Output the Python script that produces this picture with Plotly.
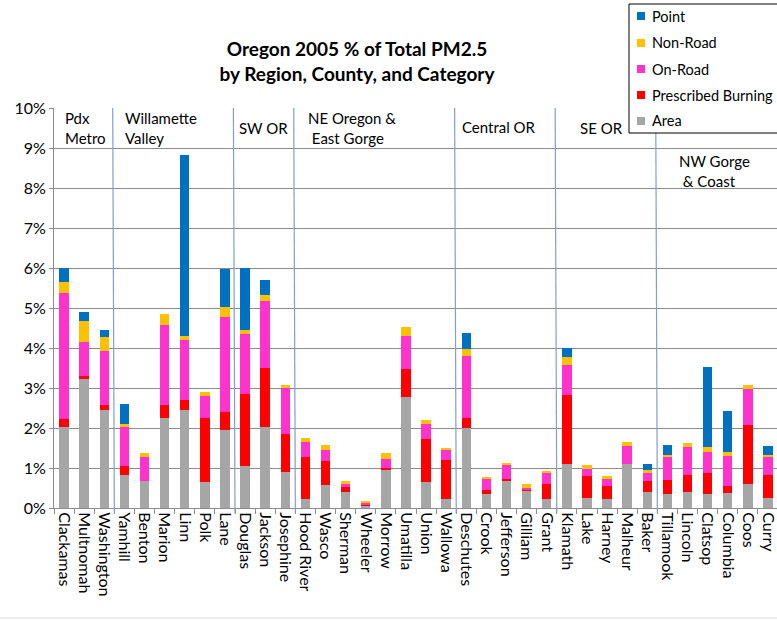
import plotly.graph_objects as go

counties = ["Clackamas", "Multnomah", "Washington", "Yamhill", "Benton", "Marion", "Linn", "Polk", "Lane",
            "Douglas", "Jackson", "Josephine", "Hood River", "Wasco", "Sherman", "Wheeler", "Morrow",
            "Umatilla", "Union", "Wallowa", "Deschutes", "Crook", "Jefferson", "Gilliam", "Grant",
            "Klamath", "Lake", "Harney", "Malheur", "Baker", "Tillamook", "Lincoln", "Clatsop",
            "Columbia", "Coos", "Curry"]

area       = [2.02, 3.22, 2.45, 0.83, 0.68, 2.25, 2.45, 0.65, 1.95, 1.06, 2.02, 0.90, 0.22, 0.58, 0.40, 0.06, 0.97,
              2.78, 0.65, 0.23, 2.00, 0.34, 0.675, 0.44, 0.22, 1.10, 0.24, 0.22, 1.10, 0.39, 0.34, 0.39, 0.34,
              0.37, 0.60, 0.26]
prescribed = [0.20, 0.08, 0.13, 0.22, 0.00, 0.33, 0.25, 1.60, 0.45, 1.80, 1.49, 0.95, 1.06, 0.60, 0.13, 0.02, 0.03,
              0.70, 1.07, 0.98, 0.25, 0.11, 0.06, 0.03, 0.38, 1.72, 0.57, 0.33, 0.00, 0.29, 0.36, 0.435, 0.54,
              0.18, 1.475, 0.565]
onroad     = [3.16, 0.86, 1.35, 0.97, 0.60, 2.00, 1.49, 0.56, 2.37, 1.49, 1.67, 1.16, 0.38, 0.28, 0.08, 0.045, 0.23,
              0.82, 0.375, 0.23, 1.56, 0.275, 0.345, 0.03, 0.275, 0.75, 0.16, 0.175, 0.46, 0.20, 0.58, 0.705, 0.53,
              0.76, 0.90, 0.45]
nonroad    = [0.26, 0.52, 0.35, 0.09, 0.10, 0.275, 0.12, 0.10, 0.25, 0.10, 0.15, 0.06, 0.08, 0.11, 0.065, 0.045, 0.14,
              0.22, 0.10, 0.05, 0.17, 0.055, 0.055, 0.10, 0.05, 0.20, 0.10, 0.075, 0.08, 0.07, 0.05, 0.09, 0.12,
              0.08, 0.095, 0.055]
point      = [0.35, 0.22, 0.18, 0.49, 0.00, 0.00, 4.51, 0.00, 0.95, 1.55, 0.37, 0.00, 0.00, 0.00, 0.00, 0.00, 0.00,
              0.00, 0.00, 0.00, 0.39, 0.00, 0.00, 0.00, 0.00, 0.23, 0.00, 0.00, 0.00, 0.15, 0.24, 0.00, 2.00,
              1.04, 0.00, 0.21]

series_names = ["Area", "Prescribed Burning", "On-Road", "Non-Road", "Point"]
series_values = [area, prescribed, onroad, nonroad, point]
series_colors = ["#A6A6A6", "#FF0000", "#FF33CC", "#FFC000", "#0070C0"]

# region separators (boundary after category index) and region labels
region_bounds = [2.5, 8.5, 11.5, 19.5, 24.5, 29.5]
region_labels = ["Pdx<br>Metro", "Willamette<br>Valley", "SW OR", "NE Oregon &amp;<br> East Gorge",
                 "Central OR", "SE OR", "NW Gorge<br> &amp; Coast"]
region_label_x = [63, 123, 237, 306, 460, 578, 677]   # pixel positions
region_label_y = [128, 128, 128, 128, 127, 128, 171]

FONT = "Lato, Carlito, Calibri, sans-serif"
W, H = 777, 620
L, R, T, B = 54, 0, 108, 112
pw, ph = W - L - R, H - T - B


def px_x(px):
    return (px - L) / pw


def px_y(py):
    return (H - B - py) / ph


fig = go.Figure()
for name, vals, col in zip(series_names, series_values, series_colors):
    fig.add_trace(go.Bar(x=counties, y=vals, name=name, marker=dict(color=col, line=dict(width=0)),
                         showlegend=False))

shapes = []
for b in region_bounds:
    shapes.append(dict(type="line", xref="x", yref="paper", x0=b, x1=b - 0.08, y0=-0.013, y1=1.0,
                       line=dict(color="#7FA0D0", width=1.2), layer="above"))

annotations = []
for txt, px, py in zip(region_labels, region_label_x, region_label_y):
    annotations.append(dict(text=txt, xref="paper", yref="paper", x=px_x(px), y=px_y(py),
                            xanchor="left", yanchor="middle", align="left", showarrow=False,
                            font=dict(family=FONT, size=15, color="#000000")))

# legend box (drawn as a key: Point on top, Area at the bottom)
shapes.append(dict(type="rect", xref="paper", yref="paper", x0=px_x(629), x1=px_x(795),
                   y0=px_y(133), y1=px_y(4), fillcolor="white", line=dict(color="#000000", width=1),
                   layer="above"))
legend_y = [121, 95, 69, 43, 16]
for name, col, cy in zip(series_names, series_colors, legend_y):
    shapes.append(dict(type="rect", xref="paper", yref="paper", x0=px_x(637), x1=px_x(645),
                       y0=px_y(cy + 4), y1=px_y(cy - 4), fillcolor=col, line=dict(width=0), layer="above"))
    annotations.append(dict(text=name, xref="paper", yref="paper", x=px_x(650), y=px_y(cy),
                            xanchor="left", yanchor="middle", showarrow=False,
                            font=dict(family=FONT, size=14.5, color="#000000")))

# light chart border at the bottom
shapes.append(dict(type="line", xref="paper", yref="paper", x0=px_x(0), x1=px_x(777),
                   y0=px_y(618), y1=px_y(618), line=dict(color="#D9D9D9", width=1)))

fig.update_layout(
    width=W, height=H,
    margin=dict(l=L, r=R, t=T, b=B, autoexpand=False),
    barmode="stack", bargap=0.53,
    plot_bgcolor="white", paper_bgcolor="white",
    font=dict(family=FONT, size=15, color="#000000"),
    title=dict(text="<b>Oregon 2005 % of Total PM2.5<br>by Region, County, and Category</b>",
               x=357 / W, xanchor="center", xref="container",
               y=1 - 56 / H, yanchor="middle", yref="container",
               font=dict(family=FONT, size=19, color="#000000")),
    xaxis=dict(type="category", range=[-0.5, 35.45], tickangle=90, tickson="boundaries",
               ticks="outside", ticklen=5, tickcolor="#8C8C8C", showgrid=False,
               showline=True, linecolor="#8C8C8C", linewidth=1,
               tickfont=dict(family=FONT, size=16, color="#000000")),
    yaxis=dict(range=[0, 10], dtick=1, ticksuffix="%", showgrid=True, gridcolor="#8C8C8C", gridwidth=1,
               ticks="outside", ticklen=4, tickcolor="#8C8C8C", showline=True, linecolor="#8C8C8C",
               linewidth=1, zeroline=False,
               tickfont=dict(family=FONT, size=16, color="#000000")),
    showlegend=False,
    shapes=shapes, annotations=annotations,
)

fig.write_html("out.html", config={"displayModeBar": False},
               post_script="document.body.style.margin='0';document.body.style.overflow='hidden';")
